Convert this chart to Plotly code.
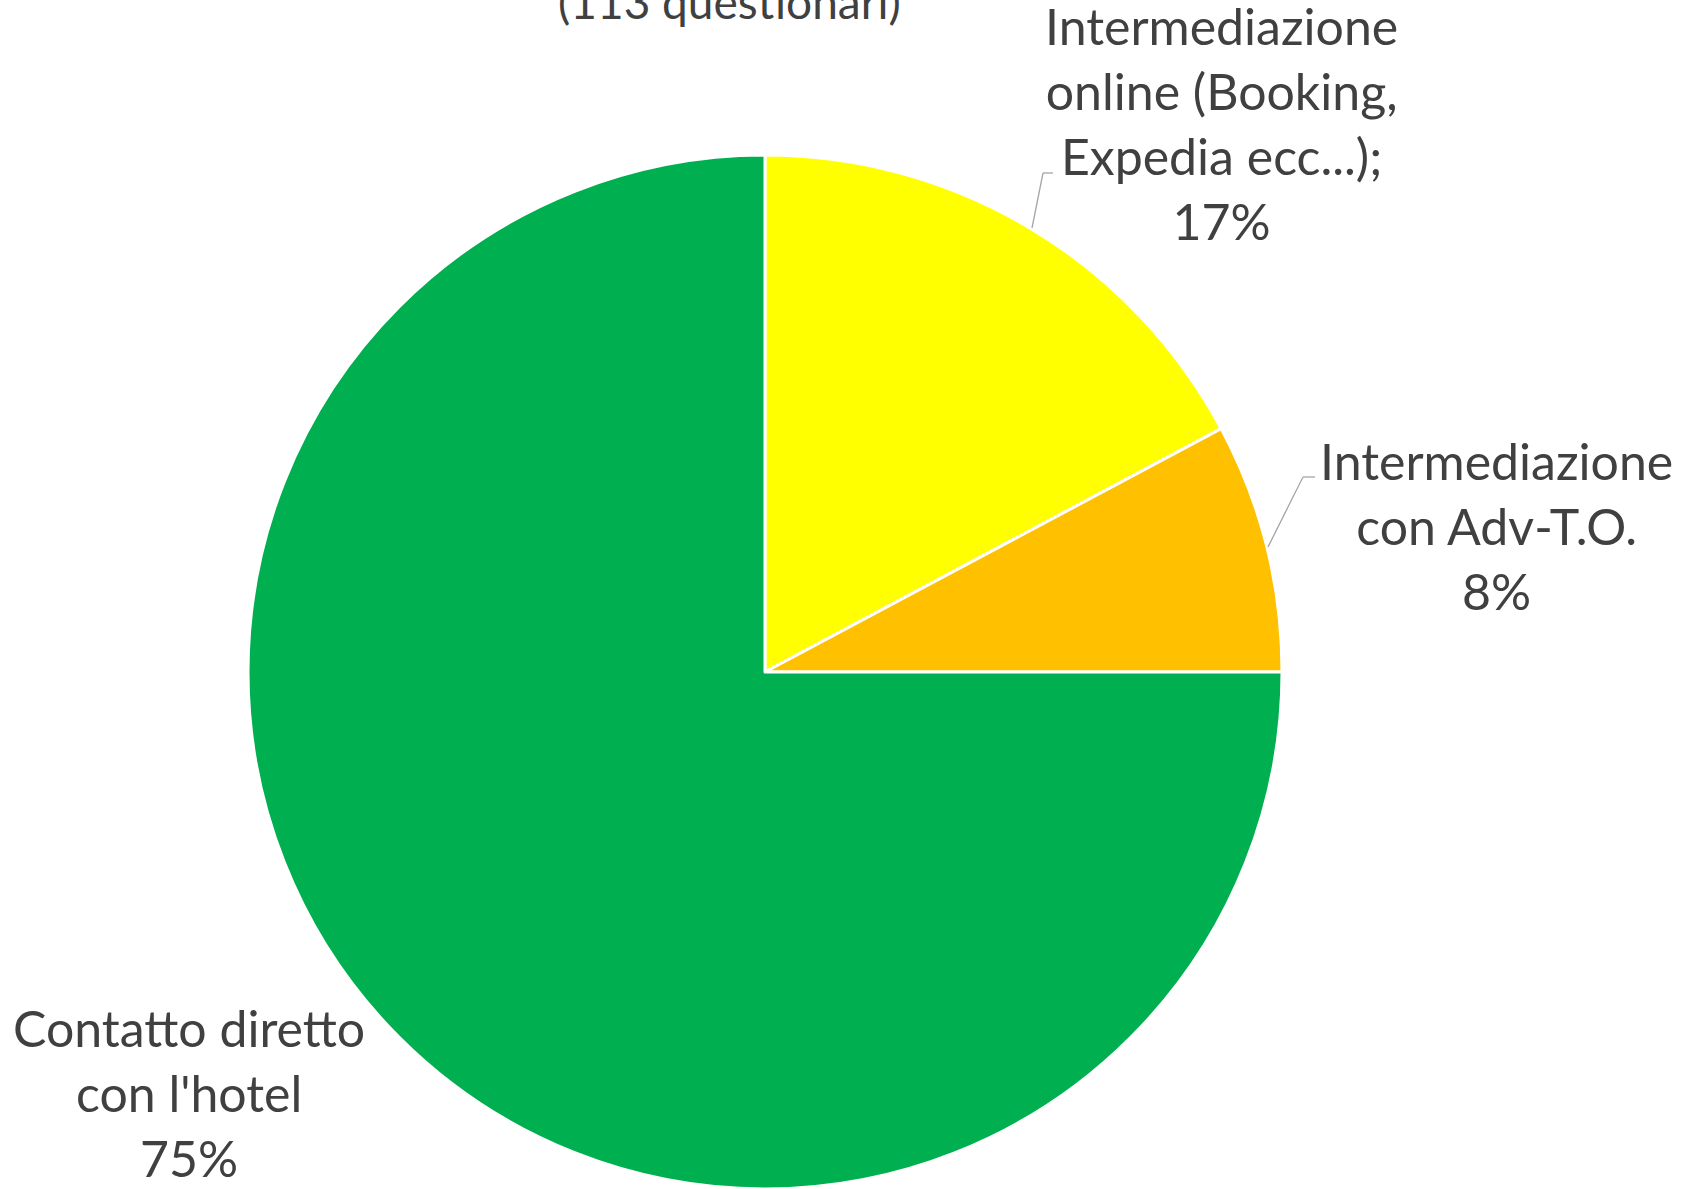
import plotly.graph_objects as go

# Data
categories = ["Intermediazione online (Booking, Expedia ecc...);", "Intermediazione con Adv-T.O.", "Contatto diretto con l'hotel"]
values = [17.2, 7.8, 75.0]
colors = ["#FFFF00", "#FFC000", "#00B050"]
label_texts = [
    "Intermediazione<br>online (Booking,<br>Expedia ecc...);<br>17%",
    "Intermediazione<br>con Adv-T.O.<br>8%",
    "Contatto diretto<br>con l'hotel<br>75%",
]
title_text = "(113 questionari)"

W, H = 1691, 1189
FONT = "Lato"
TXT = "#404040"

def px(x):
    return x / W

def py(y):
    return 1 - y / H

cx, cy, r = 765, 675, 520

fig = go.Figure(go.Pie(
    labels=categories,
    values=values,
    sort=False,
    direction="clockwise",
    rotation=0,
    marker=dict(colors=colors, line=dict(color="white", width=3)),
    textinfo="none",
    hoverinfo="label+percent",
    domain=dict(x=[px(cx - r), px(cx + r)], y=[max(0, py(cy + r)), py(cy - r)]),
    showlegend=False,
))

ann_pos = [(1221, 124), (1496, 526), (189, 1093)]
annotations = []
for t, (x, y) in zip(label_texts, ann_pos):
    annotations.append(dict(
        text=t, x=px(x), y=py(y), xref="paper", yref="paper",
        xanchor="center", yanchor="middle", showarrow=False, align="center",
        font=dict(family=FONT, size=50, color=TXT),
    ))
annotations.append(dict(
    text=title_text, x=px(729), y=py(2), xref="paper", yref="paper",
    xanchor="center", yanchor="middle", showarrow=False,
    font=dict(family=FONT, size=46, color=TXT),
))

shapes = []
leaders = [
    [(1032, 228), (1043, 173), (1053, 173)],
    [(1268, 547), (1303, 477), (1315, 477)],
]
for pts in leaders:
    for (x0, y0), (x1, y1) in zip(pts[:-1], pts[1:]):
        shapes.append(dict(type="line", xref="paper", yref="paper",
                           x0=px(x0), y0=py(y0), x1=px(x1), y1=py(y1),
                           line=dict(color="#A6A6A6", width=1.3)))

fig.update_layout(
    width=W, height=H,
    margin=dict(l=0, r=0, t=0, b=0),
    paper_bgcolor="white", plot_bgcolor="white",
    annotations=annotations, shapes=shapes,
)

fig.write_html("out.html", config={"displayModeBar": False},
               post_script="document.body.style.margin='0';document.body.style.overflow='hidden';")
